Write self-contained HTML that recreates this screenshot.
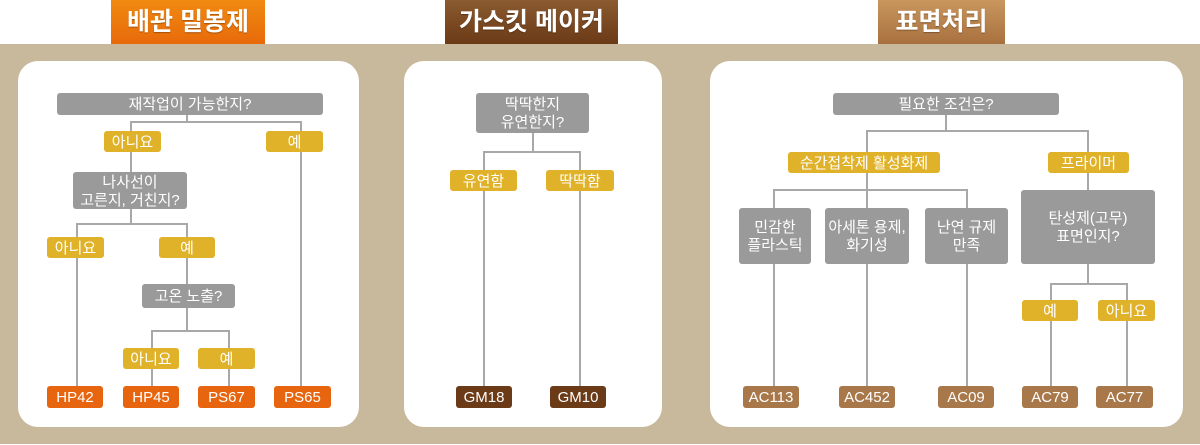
<!DOCTYPE html>
<html><head><meta charset="utf-8"><style>
body{margin:0;width:1200px;height:445px;position:relative;background:#fff;overflow:hidden;font-family:"Liberation Sans","Noto Sans CJK KR",sans-serif}
div{position:absolute;box-sizing:border-box}
.bg{left:0;top:44px;width:1200px;height:400px;background:#c9b99c}
.tab{top:0;height:44px;color:#fff;font-weight:bold;font-size:25px;text-align:center;line-height:44px;text-shadow:0 1px 1px rgba(0,0,0,.3)}
.pn{top:61px;height:366px;background:#fff;border-radius:20px}
.n{color:#fff;font-size:15px;text-align:center;display:flex;align-items:center;justify-content:center;border-radius:3px;line-height:18px;white-space:nowrap;padding-top:2px}
.g{background:#9a9a9a}
.y{background:#e0b22a}
.o{background:#e8650f}
.d{background:#6b3a17}
.t{background:#a8784a}
.h{height:2px;background:#a8a8a8}
.v{width:2px;background:#a8a8a8}
</style></head><body>
<div class="bg"></div>
<div class="tab" style="left:111px;width:154px;background:linear-gradient(#f08a10,#e86a0a)">배관 밀봉제</div>
<div class="tab" style="left:445px;width:173px;background:linear-gradient(#8a5a30,#6b3a17)">가스킷 메이커</div>
<div class="tab" style="left:878px;width:127px;background:linear-gradient(#c9975e,#a8703e)">표면처리</div>
<div class="pn" style="left:18px;width:341px"></div>
<div class="pn" style="left:404px;width:258px"></div>
<div class="pn" style="left:710px;width:473px"></div>

<div class="v" style="left:186px;top:115px;height:8px"></div>
<div class="h" style="left:130px;top:121px;width:172px"></div>
<div class="v" style="left:130px;top:121px;height:52px"></div>
<div class="v" style="left:300px;top:121px;height:266px"></div>
<div class="v" style="left:130px;top:208px;height:17px"></div>
<div class="h" style="left:76px;top:223px;width:112px"></div>
<div class="v" style="left:76px;top:223px;height:164px"></div>
<div class="v" style="left:186px;top:223px;height:62px"></div>
<div class="v" style="left:186px;top:307px;height:25px"></div>
<div class="h" style="left:151px;top:330px;width:79px"></div>
<div class="v" style="left:151px;top:330px;height:57px"></div>
<div class="v" style="left:228px;top:330px;height:57px"></div>

<div class="n g" style="left:57px;top:93px;width:266px;height:22px">재작업이 가능한지?</div>
<div class="n y" style="left:104px;top:131px;width:57px;height:21px">아니요</div>
<div class="n y" style="left:266px;top:131px;width:57px;height:21px">예</div>
<div class="n g" style="left:73px;top:172px;width:114px;height:37px">나사선이<br>고른지, 거친지?</div>
<div class="n y" style="left:47px;top:237px;width:57px;height:21px">아니요</div>
<div class="n y" style="left:159px;top:237px;width:56px;height:21px">예</div>
<div class="n g" style="left:142px;top:284px;width:93px;height:24px">고온 노출?</div>
<div class="n y" style="left:123px;top:348px;width:56px;height:21px">아니요</div>
<div class="n y" style="left:198px;top:348px;width:57px;height:21px">예</div>
<div class="n o" style="left:47px;top:386px;width:56px;height:22px">HP42</div>
<div class="n o" style="left:123px;top:386px;width:56px;height:22px">HP45</div>
<div class="n o" style="left:198px;top:386px;width:57px;height:22px">PS67</div>
<div class="n o" style="left:274px;top:386px;width:57px;height:22px">PS65</div>

<div class="v" style="left:532px;top:133px;height:20px"></div>
<div class="h" style="left:483px;top:151px;width:98px"></div>
<div class="v" style="left:483px;top:151px;height:236px"></div>
<div class="v" style="left:579px;top:151px;height:236px"></div>
<div class="n g" style="left:476px;top:93px;width:113px;height:40px">딱딱한지<br>유연한지?</div>
<div class="n y" style="left:450px;top:170px;width:67px;height:21px">유연함</div>
<div class="n y" style="left:546px;top:170px;width:68px;height:21px">딱딱함</div>
<div class="n d" style="left:456px;top:386px;width:56px;height:22px">GM18</div>
<div class="n d" style="left:550px;top:386px;width:56px;height:22px">GM10</div>

<div class="v" style="left:945px;top:115px;height:17px"></div>
<div class="h" style="left:866px;top:130px;width:223px"></div>
<div class="v" style="left:866px;top:130px;height:60px"></div>
<div class="v" style="left:1087px;top:130px;height:60px"></div>
<div class="h" style="left:773px;top:189px;width:195px"></div>
<div class="v" style="left:773px;top:189px;height:198px"></div>
<div class="v" style="left:866px;top:189px;height:198px"></div>
<div class="v" style="left:966px;top:189px;height:198px"></div>
<div class="v" style="left:1087px;top:264px;height:21px"></div>
<div class="h" style="left:1050px;top:283px;width:78px"></div>
<div class="v" style="left:1050px;top:283px;height:104px"></div>
<div class="v" style="left:1126px;top:283px;height:104px"></div>

<div class="n g" style="left:833px;top:93px;width:226px;height:22px">필요한 조건은?</div>
<div class="n y" style="left:788px;top:152px;width:152px;height:21px">순간접착제 활성화제</div>
<div class="n y" style="left:1048px;top:152px;width:81px;height:21px">프라이머</div>
<div class="n g" style="left:739px;top:208px;width:72px;height:56px">민감한<br>플라스틱</div>
<div class="n g" style="left:825px;top:208px;width:84px;height:56px">아세톤 용제,<br>화기성</div>
<div class="n g" style="left:925px;top:208px;width:83px;height:56px">난연 규제<br>만족</div>
<div class="n g" style="left:1021px;top:190px;width:134px;height:74px">탄성제(고무)<br>표면인지?</div>
<div class="n y" style="left:1022px;top:300px;width:56px;height:21px">예</div>
<div class="n y" style="left:1098px;top:300px;width:57px;height:21px">아니요</div>
<div class="n t" style="left:743px;top:386px;width:56px;height:22px">AC113</div>
<div class="n t" style="left:839px;top:386px;width:56px;height:22px">AC452</div>
<div class="n t" style="left:938px;top:386px;width:56px;height:22px">AC09</div>
<div class="n t" style="left:1022px;top:386px;width:56px;height:22px">AC79</div>
<div class="n t" style="left:1096px;top:386px;width:57px;height:22px">AC77</div>
</body></html>
